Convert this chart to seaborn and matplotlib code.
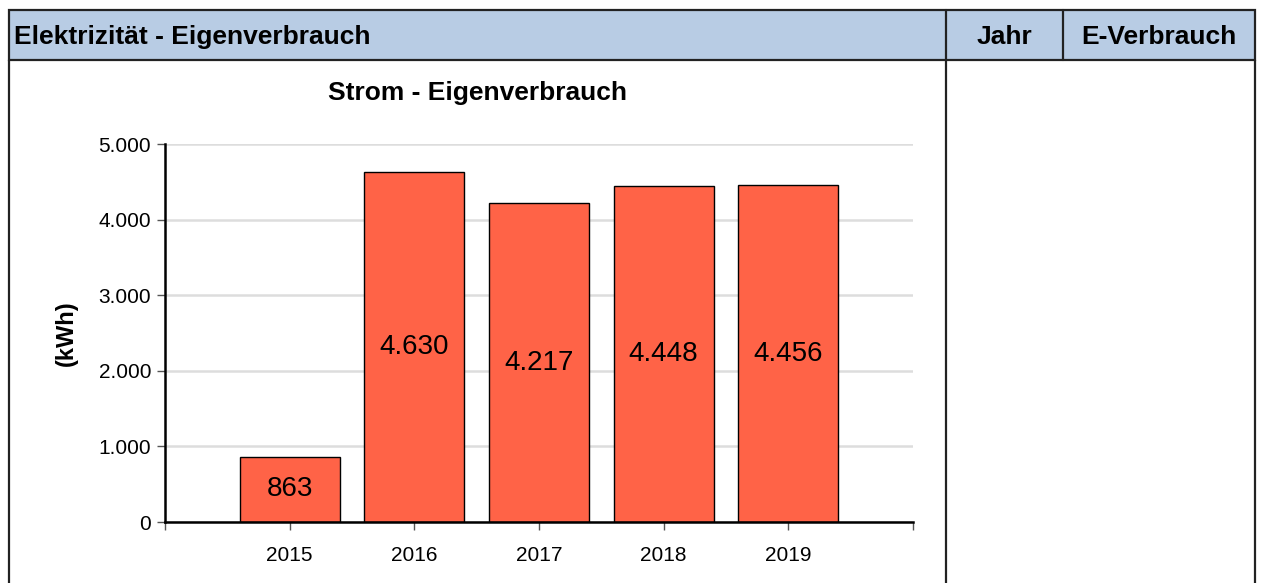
import matplotlib
matplotlib.use("Agg")
import matplotlib.pyplot as plt
from matplotlib.patches import Rectangle
from matplotlib.lines import Line2D
import seaborn as sns
import pandas as pd

# Data
years = ["2015", "2016", "2017", "2018", "2019"]
consumption_kwh = [863, 4630, 4217, 4448, 4456]
y_ticks = [0, 1000, 2000, 3000, 4000, 5000]

panel_title = "Elektrizität - Eigenverbrauch"
column_headers = ["Jahr", "E-Verbrauch"]
chart_title = "Strom - Eigenverbrauch"
y_label = "(kWh)"

sns.set_theme(style="white")
plt.rcParams["font.family"] = ["Liberation Sans", "DejaVu Sans"]
plt.rcParams["text.color"] = "black"
plt.rcParams["axes.labelcolor"] = "black"
plt.rcParams["axes.titlecolor"] = "black"


def de_fmt(v):
    return f"{int(v):,}".replace(",", ".")


W, H = 1262, 583
fig = plt.figure(figsize=(W / 100, H / 100), dpi=100)
fig.patch.set_facecolor("white")


def fx(px):
    return px / W


def fy(py):
    return 1 - py / H


# Header band and table frame
header_color = "#b8cce4"
frame_color = "#222222"
fig.add_artist(Rectangle((fx(9), fy(60)), fx(1255) - fx(9), fy(10) - fy(60),
                         transform=fig.transFigure, facecolor=header_color,
                         edgecolor=frame_color, linewidth=1.6, zorder=1))
for x in (946, 1063):
    fig.add_artist(Line2D([fx(x), fx(x)], [fy(10), fy(60)], transform=fig.transFigure,
                          color=frame_color, linewidth=1.6, zorder=2))
for x in (9, 946, 1255):
    fig.add_artist(Line2D([fx(x), fx(x)], [fy(60), fy(H + 5)], transform=fig.transFigure,
                          color=frame_color, linewidth=1.6, zorder=2))

fig.text(fx(14), fy(37), panel_title, fontsize=19, fontweight="bold",
         ha="left", va="center", color="black")
fig.text(fx(1004.5), fy(37), column_headers[0], fontsize=19, fontweight="bold",
         ha="center", va="center", color="black")
fig.text(fx(1159), fy(37), column_headers[1], fontsize=19, fontweight="bold",
         ha="center", va="center", color="black")

# Chart title, centred over the left panel
fig.text(fx(477.5), fy(93), chart_title, fontsize=19, fontweight="bold",
         ha="center", va="center", color="black")

# Chart area
ax = fig.add_axes([fx(165), fy(522), fx(913) - fx(165), fy(144) - fy(522)])
df = pd.DataFrame({"Jahr": years, "kWh": consumption_kwh})
sns.barplot(data=df, x="Jahr", y="kWh", color="#ff6347", edgecolor="black",
            linewidth=1.0, width=0.8, saturation=1, ax=ax, zorder=3)

ax.set_xlim(-1, 5)
ax.set_ylim(0, 5000)
ax.set_yticks(y_ticks)
ax.set_yticklabels([de_fmt(t) for t in y_ticks], fontsize=15)
ax.set_xticks(list(range(-1, 6)))
ax.set_xticklabels([""] + years + [""], fontsize=15)
ax.set_xlabel("")
ax.set_ylabel(y_label, fontsize=17, fontweight="bold", labelpad=15)

ax.grid(axis="y", color="#dddddd", linewidth=1.8, zorder=0)
ax.set_axisbelow(True)
for side in ("top", "right"):
    ax.spines[side].set_visible(False)
for side in ("left", "bottom"):
    ax.spines[side].set_color("black")
    ax.spines[side].set_linewidth(1.8)
    ax.spines[side].set_zorder(4)
ax.tick_params(axis="both", direction="out", length=6, width=1, color="#555555",
               left=True, bottom=True, pad=4, labelcolor="black")
ax.tick_params(axis="x", pad=11)

for container in ax.containers:
    ax.bar_label(container, labels=[de_fmt(v) for v in consumption_kwh],
                 label_type="center", fontsize=20, color="black")

fig.savefig("out.png", dpi=100, facecolor="white")
